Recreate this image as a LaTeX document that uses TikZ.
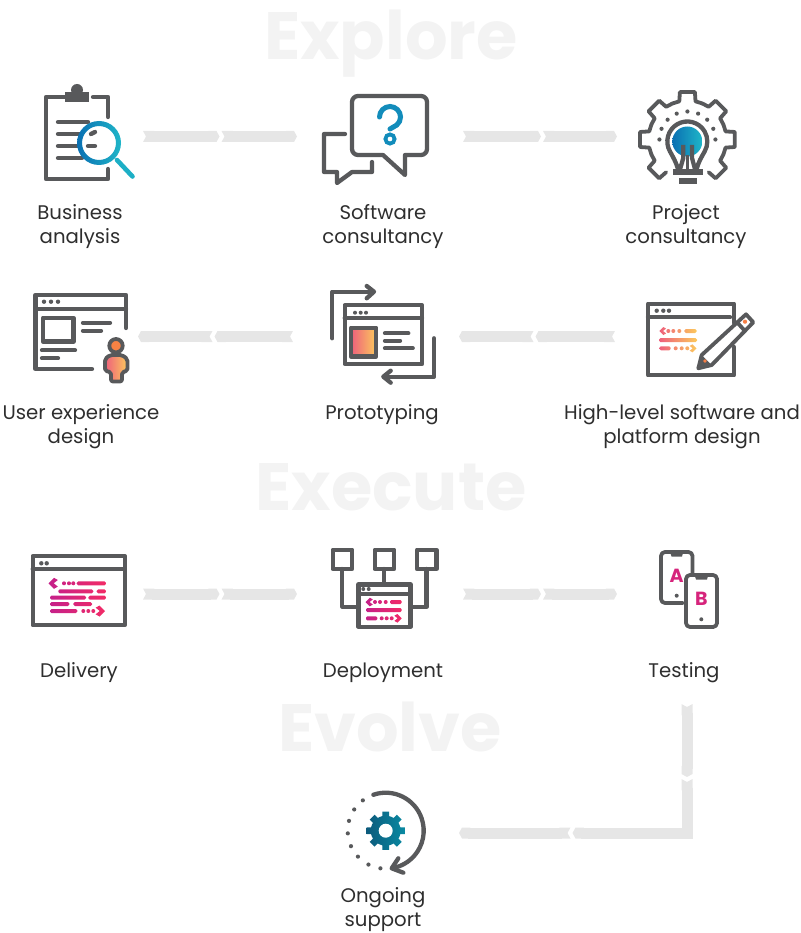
\documentclass[tikz,border=0pt]{standalone}
\usepackage{fontspec}
\setmainfont{Poppins}
\usetikzlibrary{arrows.meta}

\definecolor{ink}{HTML}{58595B}
\definecolor{word}{HTML}{2E2E2E}
\definecolor{flow}{HTML}{E6E6E6}
\definecolor{ghost}{HTML}{F3F3F3}
\definecolor{blueA}{HTML}{0A70B3}
\definecolor{blueB}{HTML}{1FB6C8}
\definecolor{warmA}{HTML}{EE5F7C}
\definecolor{warmB}{HTML}{FCC95C}
\definecolor{pinkA}{HTML}{C4208A}
\definecolor{pinkB}{HTML}{F22B66}
\definecolor{tealA}{HTML}{0C5A7C}
\definecolor{tealB}{HTML}{0A8AA2}

\tikzset{
    ln/.style={draw=ink, line width=4.3pt, line cap=round, line join=round},
    thin ln/.style={ln, line width=3.8pt},
    chev/.style={draw=flow, line width=11pt, line join=miter,
        {Triangle Cap[reversed,length=3pt]}-{Triangle Cap[length=3pt]}},
    iconbox/.style={inner sep=0pt, outer sep=0pt, minimum height=60pt},
    lbl/.style={font=\fontsize{19.7}{24}\selectfont, text=word, align=center, inner sep=0pt},
    ttl/.style={font=\fontsize{67}{67}\selectfont\bfseries, text=ghost, inner sep=0pt, anchor=base},
}
\newcommand{\chevL}[3]{(#1+#3,#2-#3) -- (#1+1.7*#3,#2-.6*#3) -- (#1+.95*#3,#2) -- (#1+1.7*#3,#2+.6*#3) -- (#1+#3,#2+#3) -- (#1,#2) -- cycle}
\newcommand{\chevR}[3]{(#1-#3,#2-#3) -- (#1-1.7*#3,#2-.6*#3) -- (#1-.95*#3,#2) -- (#1-1.7*#3,#2+.6*#3) -- (#1-#3,#2+#3) -- (#1,#2) -- cycle}

\begin{document}
\begin{tikzpicture}[x=1pt,y=-1pt]
    \useasboundingbox (0,0) rectangle (800,933);

    \node[ttl] (explore) at (391,60) {Explore};
    \node[ttl] (execute) at (391,510) {Execute};
    \node[ttl] (evolve) at (390,751) {Evolve};

    % icon places, the flow bands start and end on them
    \node[iconbox, minimum width=110pt] (ba) at (88,136.5) {};
    \node[iconbox, minimum width=166pt] (sc) at (380,136.5) {};
    \node[iconbox, minimum width=142pt] (pc) at (688,136.5) {};
    \node[iconbox, minimum width=112pt] (ux) at (82,336.5) {};
    \node[iconbox, minimum width=166pt] (proto) at (376,336.5) {};
    \node[iconbox, minimum width=170pt] (hld) at (700,336.5) {};
    \node[iconbox, minimum width=128pt] (deliv) at (79,594) {};
    \node[iconbox, minimum width=166pt] (deploy) at (380,594) {};
    \node[iconbox, minimum width=142pt] (test) at (688,594) {};
    \node[iconbox, minimum width=146pt] (supp) at (386,833) {};

    \coordinate (f1) at (219.5,136.5);
    \coordinate (f2) at (221.5,136.5);
    \coordinate (f3) at (541,136.5);
    \coordinate (f4) at (543,136.5);
    \coordinate (f5) at (214.5,336.5);
    \coordinate (f6) at (212.5,336.5);
    \coordinate (f7) at (535.5,336.5);
    \coordinate (f8) at (533.5,336.5);
    \coordinate (f9) at (219.5,594);
    \coordinate (f10) at (221.5,594);
    \coordinate (f11) at (541,594);
    \coordinate (f12) at (543,594);
    \coordinate (f13) at (687,704);
    \coordinate (f14) at (687,777);
    \coordinate (f15) at (687,779);
    \coordinate (f16) at (687,833);
    \coordinate (f17) at (572.5,833);
    \coordinate (f18) at (570.5,833);

    \draw[chev] (ba.east) -- (f1);
    \draw[chev] (f2) -- (sc.west);
    \draw[chev] (sc.east) -- (f3);
    \draw[chev] (f4) -- (pc.west);
    \draw[chev] (proto.west) -- (f5);
    \draw[chev] (f6) -- (ux.east);
    \draw[chev] (hld.west) -- (f7);
    \draw[chev] (f8) -- (proto.east);
    \draw[chev] (deliv.east) -- (f9);
    \draw[chev] (f10) -- (deploy.west);
    \draw[chev] (deploy.east) -- (f11);
    \draw[chev] (f12) -- (test.west);
    \draw[chev] (f13) -- (f14);
    \draw[chev] (f15) -- (f16) -- (f17);
    \draw[chev] (f18) -- (supp.east);

    % clipboard
    \draw[ln] (65,97) -- (46,97) -- (46,179) -- (108,179) -- (108,169);
    \draw[ln] (93,97) -- (108,97) -- (108,117);
    \fill[ink] (65,92.5) rectangle (89,102.5);
    \fill[ink] (77,90) circle (6);
    \draw[ln] (58,122) -- (88,122);
    \draw[ln] (58,134) -- (80,134);
    \draw[ln] (58,146) -- (80,146);
    \draw[ln] (58,158) -- (82,158);
    \fill[white] (99,143) circle (20);
    \draw[ln] (91,134) -- (95,132);
    \draw[ln] (88,146) -- (95,146);
    \shade[left color=blueA, right color=blueB, even odd rule] (99,143) circle (22) (99,143) circle (17);
    \draw[ln, line width=4.6pt, draw=blueB!90!blueA] (117,160) -- (132.5,176.5);

    % speech bubbles
    \draw[ln] (383,155) -- (358,155) arc[start angle=90,end angle=180,radius=6] -- (352,102)
        arc[start angle=180,end angle=270,radius=6] -- (421,96)
        arc[start angle=270,end angle=360,radius=6] -- (427,149)
        arc[start angle=0,end angle=90,radius=6] -- (405,155) -- (405,175) -- cycle;
    \draw[ln] (345,134) -- (324,134) -- (324,172) -- (337,172) -- (337,183) -- (352,172) -- (372,172) -- (372,162);
    \draw[line width=5pt, draw=blueA!60!blueB, line cap=round] (379.5,117) arc[start angle=180,end angle=410,radius=10.5] -- (390,129);
    \draw[line width=3.8pt, draw=blueA!60!blueB] (390,139) circle (4.6);

    % gear with lamp
    \begin{scope}[shift={(687.4,139.5)}]
        \foreach \a in {180,225,270,315,360} {
            \draw[thin ln] (\a-22.5:39) -- (\a-12:39) -- (\a-9:48) -- (\a+9:48) -- (\a+12:39) -- (\a+22.5:39);
        }
        \draw[thin ln] (22.5:39) -- (33:39) -- (36:48) -- (54:48) -- (57:39);
        \draw[thin ln] (123:39) -- (126:48) -- (144:48) -- (147:39) -- (157.5:39);
        \foreach \a in {180,202.5,...,360} {
            \fill[ink] (\a:28) circle (2.1);
        }
    \end{scope}
    \shade[left color=blueA, right color=blueB] (687.3,141.5) circle (15);
    \draw[ln] (678,169) .. controls (676,162) and (673,157) .. (670,151.5) arc[start angle=150,end angle=390,radius=20] .. controls (701.5,157) and (698.5,162) .. (696.6,169);
    \draw[ln, line cap=butt] (683.3,145) -- (683.3,158) -- (679.5,171);
    \draw[ln, line cap=butt] (692,145) -- (692,158) -- (695.5,171);
    \draw[ln, line cap=butt, line width=2.5pt] (687.6,155) -- (687.6,171);
    \fill[ink] (672.7,169) rectangle (702.7,175);
    \fill[ink] (678.7,177.7) rectangle (697,183.7);

    % ux window
    \draw[ln] (92,369) -- (35.5,369) -- (35.5,295) -- (126,295) -- (126,328);
    \draw[ln] (35.5,309.3) -- (126,309.3);
    \foreach \x in {44,51,58} {
        \fill[ink] (\x,301.7) circle (2.2);
    }
    \draw[ln] (43,317.7) rectangle (73.5,341.5);
    \draw[ln] (83,322.7) -- (110,322.7);
    \draw[ln] (83,330.7) -- (101,330.7);
    \draw[ln] (42,350.3) -- (75,350.3);
    \draw[ln] (42,358.3) -- (58,358.3);
    \draw[thin ln, fill=warmB!35!warmA!60!orange] (116,345.7) circle (6.7);
    \draw[thin ln, left color=warmA, right color=warmB, rounded corners=2pt] (110,355) -- (105,359) -- (105,371) -- (111,372) -- (111,381.5) -- (122,381.5) -- (122,372) -- (127.5,371) -- (127.5,359) -- (122,355) -- cycle;

    % prototype window
    \draw[ln] (344.7,305.3) rectangle (422,364);
    \draw[ln] (344.7,318.3) -- (422,318.3);
    \foreach \x in {355,360.7,366} {
        \fill[ink] (\x,312.7) circle (2);
    }
    \draw[ln, left color=warmA, right color=warmB] (351,327.7) rectangle (376.3,356.5);
    \draw[ln] (385,333.3) -- (408.3,333.3);
    \draw[ln] (385,340.7) -- (400,340.7);
    \draw[ln] (385,348.3) -- (412.7,348.3);
    \draw[ln] (332.3,338.3) -- (332.3,291.7) -- (373,291.7);
    \draw[ln] (366.7,286) -- (374,291.7) -- (366.7,298.3);
    \draw[ln] (434,338.3) -- (434,376.7) -- (384,376.7);
    \draw[ln] (390.7,370.7) -- (383.3,376.7) -- (390.7,382.7);

    % design window with pencil
    \draw[ln] (734,323) -- (734,303.7) -- (648,303.7) -- (648,375.3) -- (734,375.3) -- (734,347);
    \draw[ln] (648,317.3) -- (730,317.3);
    \foreach \x in {656.7,663.3,669} {
        \fill[ink] (\x,310.7) circle (2.2);
    }
    \begin{scope}
        \clip[rounded corners=1.5pt] (659,338.2) rectangle (697,342.2)
            (684.3,329) rectangle (696.7,333)
            (659.3,346.3) rectangle (670.7,350.3);
        \shade[left color=warmA, right color=warmB] (659,325) rectangle (697,353);
    \end{scope}
    \begin{scope}
        \clip \chevL{659.3}{331}{4} \chevR{696.5}{348.3}{4}
            \foreach \x in {668.3,673.3,679.3} { (\x,331) circle (2) }
            \foreach \x in {675.7,681.7,687.3} { (\x,348.3) circle (2) };
        \shade[left color=warmA, right color=warmB] (659,325) rectangle (697,353);
    \end{scope}
    \draw[thin ln, fill=white] (746,314.3) -- (753.3,322.3) -- (711.7,365) -- (698.3,368.3) -- (701.7,355) -- cycle;
    \fill[ink] (698.3,368.3) -- (701.7,355) -- (711.7,365) -- cycle;
    \fill[warmB!30!warmA!60!orange] (705,361) circle (1.8);
    \draw[thin ln] (737.7,323) -- (744.7,330.7);
    \fill[warmB!30!warmA!60!orange] (745,321.7) circle (2.1);

    % delivery window
    \draw[ln] (32.7,556) rectangle (124.7,625.3);
    \draw[ln] (32.7,569.3) -- (124.7,569.3);
    \foreach \x in {41.3,46.7} {
        \fill[ink] (\x,563.3) circle (2.2);
    }
    \begin{scope}
        \clip[rounded corners=1.5pt] (76.7,581.3) rectangle (106,585.3)
            (58.3,589.3) rectangle (93.3,593.3) (96.7,589.3) rectangle (106,593.3)
            (50,595.7) rectangle (86,599.7) (88.3,595.7) rectangle (106,599.7)
            (50,602) rectangle (69.3,606) (73.3,602) rectangle (92,606)
            (50,609) rectangle (77.3,613);
        \shade[left color=pinkA, right color=pinkB] (48,575) rectangle (106,620);
    \end{scope}
    \begin{scope}
        \clip \chevL{48.5}{583.3}{5.5} \chevR{105}{611}{5.5}
            \foreach \x in {64,69,73.3} { (\x,583.3) circle (2) }
            \foreach \x in {83.3,88.3,93.3} { (\x,611) circle (2) };
        \shade[left color=pinkA, right color=pinkB] (48,575) rectangle (106,620);
    \end{scope}

    % deployment boxes
    \foreach \x in {332.7,374.7,417} {
        \draw[ln] (\x,549.7) rectangle (\x+19.5,569);
    }
    \draw[ln] (342.3,569) -- (342.3,606.7) -- (358.5,606.7);
    \draw[ln] (384.3,569) -- (384.3,584.5);
    \draw[ln] (426.6,569) -- (426.6,606.7) -- (410.5,606.7);
    \draw[ln, fill=white] (358.5,584.5) rectangle (410.5,626.7);
    \draw[ln, line width=3.6pt] (358.5,594) -- (410.5,594);
    \foreach \x in {363.3,368.7} {
        \fill[ink] (\x,589) circle (2);
    }
    \begin{scope}
        \clip[rounded corners=1.3pt] (390,600) rectangle (401.7,604)
            (366,608) rectangle (401.7,612)
            (366,616.3) rectangle (377.3,620.3);
        \shade[left color=pinkA, right color=pinkB] (365,596) rectangle (402,624);
    \end{scope}
    \begin{scope}
        \clip \chevL{365.5}{602}{4.3} \chevR{401.7}{618.3}{4.3}
            \foreach \x in {375,380,385.7} { (\x,602) circle (2) }
            \foreach \x in {381.7,386.7,391.7} { (\x,618.3) circle (2) };
        \shade[left color=pinkA, right color=pinkB] (365,596) rectangle (402,624);
    \end{scope}

    % two phones
    \draw[thin ln, rounded corners=4pt] (683,603) -- (661,603) -- (661,552) -- (692.5,552) -- (692.5,574);
    \fill[ink] (670,552) -- (683.3,552) -- (682,556.5) -- (671.5,556.5) -- cycle;
    \fill[ink] (676.7,595.7) circle (2);
    \draw[thin ln, rounded corners=4pt] (686,575) rectangle (717,627);
    \fill[ink] (694.5,575) -- (708.3,575) -- (707,579.5) -- (696,579.5) -- cycle;
    \fill[ink] (701.3,619.3) circle (2);
    \node[font=\fontsize{19}{19}\selectfont\bfseries, text=pinkB!40!pinkA, inner sep=0pt] (letterA) at (676.7,576) {A};
    \node[font=\fontsize{19}{19}\selectfont\bfseries, text=pinkB!40!pinkA, inner sep=0pt] (letterB) at (701.3,599.3) {B};

    % support gear
    \begin{scope}[shift={(385.7,830.7)}]
        \draw[ln] (-109:38) arc[start angle=-109,end angle=79,radius=38];
        \draw[ln] (398.3-385.7,858.3-830.7) -- (391.7-385.7,868.3-830.7) -- (403.3-385.7,872.7-830.7);
        \foreach \a in {233,214,195,176,156,137,117,98} {
            \fill[ink] (\a:38) circle (2.1);
        }
        \shade[left color=tealA, right color=tealB] (0,0) circle (15)
            \foreach \a in {0,45,...,315} { (\a-14:14) -- (\a-10:19.5) -- (\a+10:19.5) -- (\a+14:14) -- cycle };
        \fill[white] (0,0) circle (7);
    \end{scope}

    % labels
    \node[lbl] (lba) at (80,226.5) {Business\\analysis};
    \node[lbl] (lsc) at (383,226.5) {Software\\consultancy};
    \node[lbl] (lpc) at (686,226.5) {Project\\consultancy};
    \node[lbl] (lux) at (81,426.5) {User experience\\design};
    \node[lbl] (lproto) at (382,414.5) {Prototyping};
    \node[lbl] (lhld) at (682,426.5) {High-level software and\\platform design};
    \node[lbl] (ldeliv) at (79,672.5) {Delivery};
    \node[lbl] (ldeploy) at (383,672.5) {Deployment};
    \node[lbl] (ltest) at (684,672.5) {Testing};
    \node[lbl] (lsupp) at (383,910) {Ongoing\\support};
\end{tikzpicture}
\end{document}
